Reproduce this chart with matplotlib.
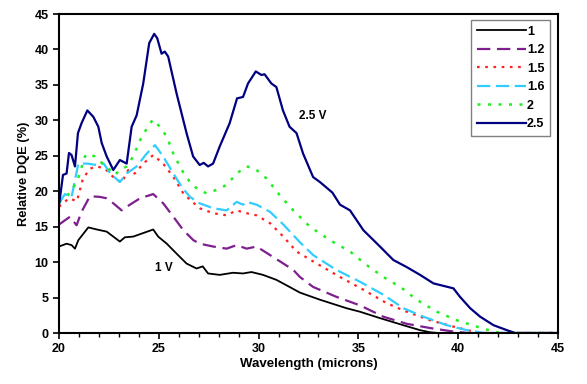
import matplotlib
matplotlib.use('Agg')
import matplotlib.pyplot as plt
from matplotlib.ticker import MultipleLocator

plt.rcParams['font.family'] = ['Liberation Sans', 'DejaVu Sans']
plt.rcParams['font.weight'] = 'bold'

# Relative DQE (%) vs wavelength (microns), one curve per bias voltage
wl_1 = [20.0, 20.38, 20.63, 20.8, 20.97, 21.47, 21.9, 22.39, 22.72, 23.05, 23.3, 23.72,
        24.22, 24.72, 24.97, 25.4, 25.89, 26.39, 26.89, 27.2, 27.47, 28.05, 28.72, 29.22,
        29.64, 30.22, 30.89, 31.55, 32.07, 33.07, 34.4, 35.08, 36.08, 37.25, 38.09, 38.6,
        39.0, 45.0]
dqe_1 = [12.2, 12.6, 12.4, 11.9, 13.1, 14.9, 14.6, 14.3, 13.6, 12.9, 13.5, 13.6,
         14.1, 14.6, 13.6, 12.6, 11.2, 9.8, 9.1, 9.4, 8.4, 8.2, 8.5, 8.4,
         8.6, 8.2, 7.5, 6.5, 5.7, 4.7, 3.5, 3.0, 2.1, 1.1, 0.4, 0.1,
         0.0, 0.0]

wl_12 = [20.0, 20.55, 20.88, 21.13, 21.55, 22.05, 22.39, 22.72, 23.14, 23.55, 24.06, 24.72,
         25.22, 25.73, 26.23, 26.73, 27.05, 27.72, 28.4, 28.9, 29.4, 29.9, 30.57, 31.24,
         31.74, 32.07, 32.73, 33.9, 35.08, 36.25, 37.42, 38.59, 39.76, 40.5, 45.0]
dqe_12 = [15.3, 16.4, 15.2, 17.1, 19.3, 19.2, 19.0, 18.3, 17.3, 18.1, 19.0, 19.6,
          18.3, 16.4, 14.5, 13.1, 12.6, 12.2, 11.9, 12.4, 11.9, 12.2, 11.0, 9.8,
          8.9, 7.9, 6.5, 5.1, 3.9, 2.3, 1.3, 0.7, 0.2, 0.0, 0.0]

wl_15 = [20.0, 20.5, 20.9, 21.2, 21.57, 21.9, 22.3, 22.72, 23.14, 23.47, 23.8, 24.22,
         24.72, 25.22, 25.73, 26.23, 26.56, 27.05, 27.72, 28.4, 28.9, 29.4, 29.9, 30.57,
         31.24, 31.9, 32.73, 34.08, 35.25, 36.42, 37.42, 38.59, 39.76, 40.76, 41.3, 45.0]
dqe_15 = [17.8, 19.0, 18.6, 21.8, 23.2, 23.5, 23.2, 22.0, 21.2, 23.0, 22.5, 23.9,
          25.1, 23.9, 22.0, 19.7, 18.8, 17.6, 16.9, 16.6, 17.3, 16.9, 16.6, 15.5,
          13.6, 11.5, 10.1, 7.9, 6.1, 4.2, 3.0, 1.8, 0.9, 0.2, 0.0, 0.0]

wl_16 = [20.0, 20.3, 20.63, 20.97, 21.4, 21.9, 22.24, 22.57, 23.05, 23.39, 23.89, 24.39,
         24.81, 25.22, 25.73, 26.15, 26.56, 27.05, 27.72, 28.4, 28.9, 29.22, 29.4, 29.9,
         30.57, 31.24, 32.07, 32.73, 33.9, 35.1, 36.25, 37.25, 38.26, 39.43, 40.43, 41.3,
         45.0]
dqe_16 = [18.3, 19.6, 19.2, 23.9, 23.9, 23.7, 23.9, 22.5, 21.3, 22.5, 23.5, 25.3,
          26.5, 24.9, 22.5, 20.6, 19.2, 18.3, 17.6, 17.3, 18.5, 18.1, 18.5, 18.1,
          17.1, 15.3, 12.8, 11.0, 8.9, 7.2, 5.4, 3.5, 2.3, 1.1, 0.4, 0.0,
          0.0]

wl_2 = [20.0, 20.38, 20.9, 21.3, 21.42, 21.8, 22.05, 22.39, 22.8, 23.05, 23.39, 23.72,
        24.06, 24.39, 24.7, 25.06, 25.4, 25.73, 26.15, 26.56, 26.98, 27.4, 27.9, 28.4,
        28.9, 29.4, 29.81, 30.4, 31.07, 31.74, 32.57, 33.57, 34.58, 35.41, 36.25, 37.1,
        37.92, 38.93, 39.93, 40.93, 41.77, 42.2, 45.0]
dqe_2 = [18.5, 19.2, 21.3, 24.9, 25.3, 24.9, 24.2, 23.5, 22.3, 23.0, 23.5, 24.9,
         27.2, 28.8, 30.1, 29.1, 27.7, 25.3, 23.0, 21.3, 20.2, 19.7, 20.2, 20.9,
         22.5, 23.5, 23.2, 21.8, 19.4, 17.3, 15.0, 13.1, 11.5, 9.6, 7.9, 6.5,
         4.7, 3.0, 1.8, 0.9, 0.2, 0.0, 0.0]

wl_25 = [20.0, 20.2, 20.38, 20.5, 20.63, 20.8, 20.95, 21.13, 21.42, 21.72, 21.97, 22.14,
         22.39, 22.72, 23.05, 23.39, 23.64, 23.89, 24.22, 24.52, 24.77, 24.92, 25.14, 25.3,
         25.47, 25.89, 26.39, 26.72, 27.05, 27.25, 27.47, 27.72, 28.05, 28.55, 28.92, 29.22,
         29.47, 29.86, 30.14, 30.3, 30.64, 30.89, 31.22, 31.55, 31.9, 32.23, 32.73, 33.07,
         33.7, 34.08, 34.58, 35.25, 36.08, 36.75, 37.42, 38.09, 38.76, 39.76, 40.09, 40.6,
         41.1, 41.77, 42.44, 42.85, 45.0]
dqe_25 = [18.0, 22.3, 22.5, 25.4, 25.1, 23.5, 28.2, 29.6, 31.4, 30.5, 29.1, 26.8,
          24.9, 23.0, 24.4, 23.9, 29.1, 30.7, 35.2, 40.9, 42.2, 41.6, 39.4, 39.7,
          39.0, 33.8, 28.2, 24.9, 23.7, 24.0, 23.5, 23.9, 26.3, 29.6, 33.1, 33.3,
          35.2, 36.9, 36.4, 36.5, 35.2, 34.7, 31.4, 29.1, 28.2, 25.3, 22.0, 21.3,
          19.8, 18.1, 17.3, 14.5, 12.2, 10.3, 9.3, 8.2, 7.0, 6.3, 5.1, 3.5,
          2.3, 1.1, 0.4, 0.0, 0.0]

labels = ['1', '1.2', '1.5', '1.6', '2', '2.5']

fig = plt.figure(figsize=(5.87, 3.84), dpi=100)
ax = fig.add_axes([0.1005, 0.1328, 0.8501, 0.8307])

ax.plot(wl_1, dqe_1, color='black', lw=1.3, label=labels[0])
ax.plot(wl_12, dqe_12, color='#7F1F8F', lw=1.6, dashes=(6, 3), label=labels[1])
ax.plot(wl_15, dqe_15, color='#FF2020', lw=1.6, dashes=(1.2, 2.5), label=labels[2])
ax.plot(wl_16, dqe_16, color='#33CCFF', lw=1.6, dashes=(6, 2.5), label=labels[3])
ax.plot(wl_2, dqe_2, color='#22EE22', lw=1.8, dashes=(1.2, 3), label=labels[4])
ax.plot(wl_25, dqe_25, color='#000080', lw=1.6, label=labels[5])

ax.text(32.0, 30.6, '2.5 V', fontsize=8.5, fontweight='bold', va='center')
ax.text(24.8, 9.2, '1 V', fontsize=8.5, fontweight='bold', va='center')

ax.set_xlim(20, 45)
ax.set_ylim(0, 45)
ax.xaxis.set_major_locator(MultipleLocator(5))
ax.xaxis.set_minor_locator(MultipleLocator(1))
ax.yaxis.set_major_locator(MultipleLocator(5))
ax.tick_params(axis='both', which='major', labelsize=9, length=4, width=1.2, direction='out')
ax.tick_params(axis='x', which='minor', length=3, width=1.0, direction='out')
for lab in ax.get_xticklabels() + ax.get_yticklabels():
    lab.set_fontweight('bold')
for sp in ax.spines.values():
    sp.set_linewidth(1.5)

ax.set_xlabel('Wavelength (microns)', fontsize=9.5, fontweight='bold', labelpad=2)
ax.set_ylabel('Relative DQE (%)', fontsize=9.3, fontweight='bold', labelpad=3)

leg = ax.legend(loc='upper right', bbox_to_anchor=(0.984, 0.981), borderaxespad=0,
                fontsize=9, fancybox=False, edgecolor='#808080', framealpha=1,
                handlelength=3.9, handletextpad=0.1, labelspacing=0.52,
                borderpad=0.45)
leg.get_frame().set_linewidth(1.0)
for t in leg.get_texts():
    t.set_fontweight('bold')

fig.savefig('out.png', dpi=100)
